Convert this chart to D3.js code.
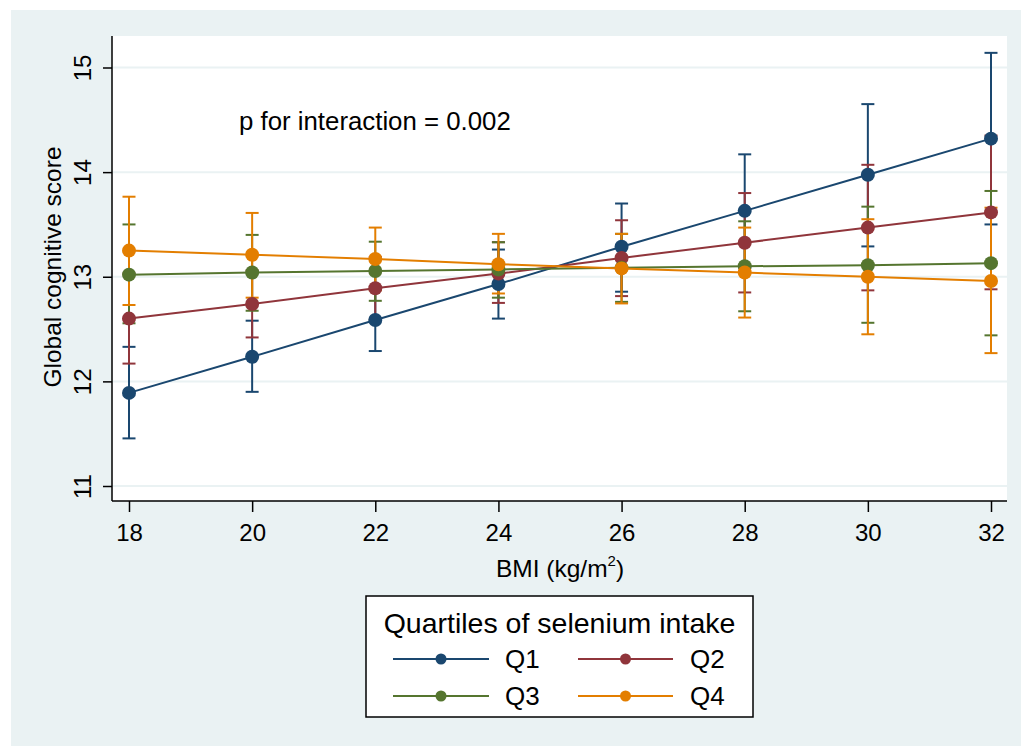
<!DOCTYPE html>
<html>
<head>
<meta charset="utf-8">
<script src="https://cdn.jsdelivr.net/npm/d3@7"></script>
<style>
  html, body { margin: 0; padding: 0; background: #ffffff; }
  svg { display: block; }
  text { font-family: "Liberation Sans", Arial, sans-serif; fill: #000; }
</style>
</head>
<body>
<svg id="chart" width="1021" height="746"></svg>
<script>
// ---- Data ----
const bmi = [18, 20, 22, 24, 26, 28, 30, 32];
const seriesNames = ["Q1", "Q2", "Q3", "Q4"];
const seriesColors = ["#1a476f", "#90353b", "#55752f", "#e37e00"];

const q1Mean = [11.89, 12.235, 12.586, 12.93, 13.287, 13.63, 13.975, 14.32];
const q1Low  = [11.455, 11.90, 12.29, 12.60, 12.857, 13.09, 13.29, 13.50];
const q1High = [12.33, 12.58, 12.88, 13.26, 13.70, 14.17, 14.65, 15.14];

const q2Mean = [12.60, 12.74, 12.89, 13.03, 13.18, 13.325, 13.47, 13.615];
const q2Low  = [12.17, 12.42, 12.59, 12.75, 12.815, 12.85, 12.87, 12.88];
const q2High = [13.03, 13.06, 13.19, 13.33, 13.54, 13.80, 14.07, 14.35];

const q3Mean = [13.02, 13.04, 13.055, 13.07, 13.085, 13.10, 13.11, 13.13];
const q3Low  = [12.555, 12.675, 12.77, 12.80, 12.76, 12.67, 12.56, 12.44];
const q3High = [13.50, 13.40, 13.335, 13.33, 13.41, 13.53, 13.67, 13.82];

const q4Mean = [13.25, 13.21, 13.17, 13.12, 13.08, 13.04, 13.00, 12.96];
const q4Low  = [12.73, 12.80, 12.87, 12.84, 12.745, 12.61, 12.45, 12.27];
const q4High = [13.765, 13.61, 13.47, 13.41, 13.41, 13.47, 13.55, 13.66];

const yTicks = [11, 12, 13, 14, 15];
const xTicks = [18, 20, 22, 24, 26, 28, 30, 32];

const annotation = "p for interaction = 0.002";
const yTitle = "Global cognitive score";
const legendTitle = "Quartiles of selenium intake";

// ---- Build series table ----
const means = [q1Mean, q2Mean, q3Mean, q4Mean];
const lows = [q1Low, q2Low, q3Low, q4Low];
const highs = [q1High, q2High, q3High, q4High];
const series = seriesNames.map((name, i) => ({
  name, color: seriesColors[i],
  pts: bmi.map((x, j) => ({ x, y: means[i][j], lo: lows[i][j], hi: highs[i][j] }))
}));

// ---- Layout ----
const svg = d3.select("#chart");
const plot = { left: 112, right: 1007, top: 36, bottom: 501 };

// outer graph region
svg.append("rect").attr("x", 11).attr("y", 10).attr("width", 1010).attr("height", 736)
  .attr("fill", "#eaf2f3");
// plot region
svg.append("rect").attr("x", plot.left).attr("y", plot.top)
  .attr("width", plot.right - plot.left).attr("height", plot.bottom - plot.top)
  .attr("fill", "#ffffff");

const x = d3.scaleLinear().domain([18, 32]).range([129, 991]);
const y = d3.scaleLinear().domain([11, 15]).range([486, 67.5]);

// gridlines
svg.append("g").selectAll("line").data(yTicks).join("line")
  .attr("x1", plot.left).attr("x2", plot.right)
  .attr("y1", d => y(d)).attr("y2", d => y(d))
  .attr("stroke", "#eaf2f3").attr("stroke-width", 2);

// y axis
const yAxis = svg.append("g").attr("transform", `translate(${plot.left},0)`)
  .call(d3.axisLeft(y).tickValues(yTicks).tickSize(9).tickPadding(0).tickFormat(d3.format("d")));
yAxis.select(".domain").attr("d", `M0,${plot.top}V${plot.bottom}`).attr("stroke", "#000").attr("stroke-width", 1.5);
yAxis.selectAll(".tick line").attr("stroke", "#000").attr("stroke-width", 1.5);
yAxis.selectAll(".tick text")
  .attr("x", null).attr("dy", null)
  .attr("transform", "translate(-21,0) rotate(-90)")
  .attr("text-anchor", "middle")
  .attr("font-size", 24).attr("font-family", "Liberation Sans, Arial, sans-serif")
  .attr("fill", "#000");

// x axis
const xAxis = svg.append("g").attr("transform", `translate(0,${plot.bottom})`)
  .call(d3.axisBottom(x).tickValues(xTicks).tickSize(11).tickPadding(0).tickFormat(d3.format("d")));
xAxis.select(".domain").attr("d", `M${plot.left},0H${plot.right}`).attr("stroke", "#000").attr("stroke-width", 1.5);
xAxis.selectAll(".tick line").attr("stroke", "#000").attr("stroke-width", 1.5);
xAxis.selectAll(".tick text")
  .attr("y", 40).attr("dy", null)
  .attr("font-size", 24).attr("font-family", "Liberation Sans, Arial, sans-serif")
  .attr("fill", "#000");

// axis titles
svg.append("text").attr("transform", "translate(61,267) rotate(-90)")
  .attr("text-anchor", "middle").attr("font-size", 24.5).text(yTitle);

const xt = svg.append("text").attr("x", 560).attr("y", 577)
  .attr("text-anchor", "middle").attr("font-size", 24.5);
xt.append("tspan").text("BMI (kg/m");
xt.append("tspan").attr("dy", -11).attr("font-size", 15).text("2");
xt.append("tspan").attr("dy", 11).text(")");

// annotation
svg.append("text").attr("x", 239).attr("y", 130).attr("font-size", 25.8).text(annotation);

// error bars (caps) per series
const capHalf = 6.5;
series.forEach(s => {
  const g = svg.append("g").attr("stroke", s.color).attr("stroke-width", 2).attr("fill", "none");
  g.selectAll(".v").data(s.pts).join("line")
    .attr("x1", d => x(d.x)).attr("x2", d => x(d.x))
    .attr("y1", d => y(d.lo)).attr("y2", d => y(d.hi));
  g.selectAll(".ch").data(s.pts).join("line").attr("class", "ch")
    .attr("x1", d => x(d.x) - capHalf).attr("x2", d => x(d.x) + capHalf)
    .attr("y1", d => y(d.hi)).attr("y2", d => y(d.hi));
  g.selectAll(".cl").data(s.pts).join("line").attr("class", "cl")
    .attr("x1", d => x(d.x) - capHalf).attr("x2", d => x(d.x) + capHalf)
    .attr("y1", d => y(d.lo)).attr("y2", d => y(d.lo));
});

// lines + markers
const line = d3.line().x(d => x(d.x)).y(d => y(d.y));
series.forEach(s => {
  svg.append("path").datum(s.pts).attr("d", line)
    .attr("fill", "none").attr("stroke", s.color).attr("stroke-width", 2);
  svg.append("g").selectAll("circle").data(s.pts).join("circle")
    .attr("cx", d => x(d.x)).attr("cy", d => y(d.y)).attr("r", 7)
    .attr("fill", s.color);
});

// legend
const lg = svg.append("g");
lg.append("rect").attr("x", 366).attr("y", 596).attr("width", 387).attr("height", 121)
  .attr("fill", "#fff").attr("stroke", "#000").attr("stroke-width", 1.5);
lg.append("text").attr("x", 559.5).attr("y", 633).attr("text-anchor", "middle")
  .attr("font-size", 28.5).text(legendTitle);
const legPos = [
  { x0: 393, x1: 489, tx: 505, y: 659 },
  { x0: 578, x1: 673, tx: 690, y: 659 },
  { x0: 393, x1: 489, tx: 505, y: 696 },
  { x0: 578, x1: 673, tx: 690, y: 696 }
];
series.forEach((s, i) => {
  const p = legPos[i];
  lg.append("line").attr("x1", p.x0).attr("x2", p.x1).attr("y1", p.y).attr("y2", p.y)
    .attr("stroke", s.color).attr("stroke-width", 2);
  lg.append("circle").attr("cx", (p.x0 + p.x1) / 2).attr("cy", p.y).attr("r", 5.5).attr("fill", s.color);
  lg.append("text").attr("x", p.tx).attr("y", p.y + 9).attr("font-size", 26).text(s.name);
});
</script>
</body>
</html>
